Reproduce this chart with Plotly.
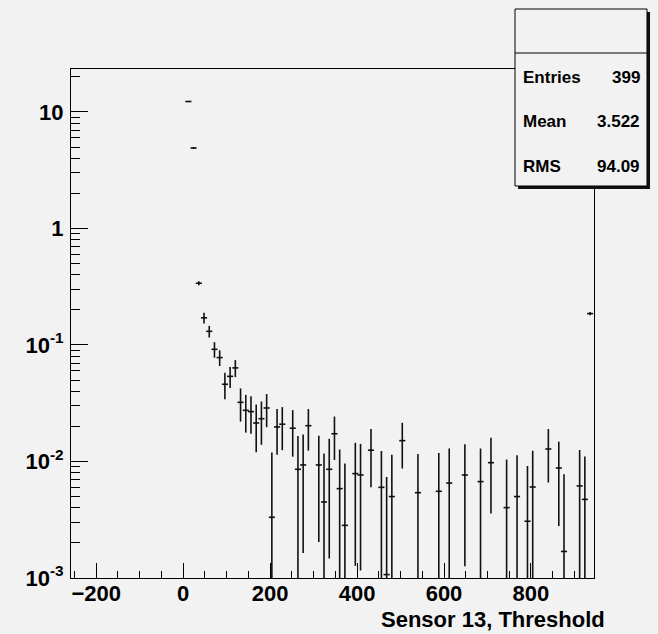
import plotly.graph_objects as go

# ---- data ----
bin_centers = [12, 24, 36, 48, 60, 72, 84, 96, 108, 120,
               132, 144, 156, 168, 180, 192, 204, 216, 228, 252,
               264, 276, 288, 312, 324, 336, 348, 360, 372, 396,
               408, 432, 456, 468, 480, 504, 540, 588, 612, 648,
               684, 708, 744, 768, 792, 804, 840, 864, 876, 912,
               924, 936]
counts = [12.3, 4.91, 0.339, 0.171, 0.131, 0.0918, 0.078, 0.046, 0.0538, 0.0636,
          0.0322, 0.0275, 0.0268, 0.0214, 0.0233, 0.0288, 0.00332, 0.0198, 0.0209, 0.0193,
          0.00857, 0.00934, 0.0203, 0.00934, 0.00449, 0.00857, 0.0173, 0.00585, 0.00283, 0.00787,
          0.00766, 0.0125, 0.006, 0.00107, 0.005, 0.0151, 0.0054, 0.00555, 0.00653, 0.00766,
          0.00672, 0.00977, 0.00402, 0.005, 0.00307, 0.00604, 0.0128, 0.00879, 0.00169, 0.00617,
          0.00473, 0.186]
errors = [0, 0.1, 0.013, 0.018, 0.015, 0.014, 0.012, 0.0117, 0.011, 0.0106,
          0.0102, 0.0098, 0.0095, 0.0094, 0.0094, 0.0091, 0.0086, 0.0084, 0.0084, 0.0083,
          0.008, 0.0077, 0.0079, 0.0073, 0.0072, 0.0071, 0.007, 0.0068, 0.0068, 0.0066,
          0.0065, 0.0065, 0.0063, 0.0063, 0.0064, 0.0064, 0.0062, 0.0063, 0.0064, 0.0064,
          0.0062, 0.0062, 0.0064, 0.0063, 0.0061, 0.0063, 0.0062, 0.006, 0.0061, 0.0064,
          0.0063, 0.006]
half_bin = 6

x_title = "Sensor 13, Threshold"
stat_names = ["Entries", "Mean", "RMS"]
stat_values = ["399", "3.522", "94.09"]

y_tick_vals = [1e-3, 1e-2, 1e-1, 1, 10]
y_tick_text = ["10<sup>-3</sup>", "10<sup>-2</sup>", "10<sup>-1</sup>", "1", "10"]

# ---- layout geometry (pixels) ----
W, H = 658, 634
L, R, T, B = 71, 594, 69, 578
BG = "#f2f2f2"
FONT = "Liberation Sans"


def px(x):
    return (x - L) / (R - L)


def py(y):
    return (B - y) / (B - T)


minor_y = [m * 10.0 ** e for e in range(-3, 2) for m in range(2, 10)]

fig = go.Figure()
fig.add_trace(go.Scatter(
    x=bin_centers, y=counts, mode="markers",
    marker=dict(size=1, color="black"),
    error_y=dict(type="data", array=errors, visible=True, width=0,
                 thickness=1.6, color="#111111"),
    error_x=dict(type="constant", value=half_bin + 1, visible=True, width=0,
                 thickness=1.6, color="#111111"),
    showlegend=False, hoverinfo="skip",
))

fig.update_layout(
    width=W, height=H,
    margin=dict(l=L, r=W - R, t=T, b=H - B, pad=0),
    paper_bgcolor=BG, plot_bgcolor=BG,
    font=dict(family=FONT, color="black", size=22, weight="bold"),
    xaxis=dict(
        range=[-258, 945], showgrid=False, zeroline=False,
        showline=True, linecolor="black", linewidth=1, mirror=True,
        ticks="inside", ticklen=15, tickwidth=1, tickcolor="black",
        tick0=0, dtick=200, ticklabelstandoff=-4,
        minor=dict(ticks="inside", ticklen=7, tickwidth=1, tickcolor="black",
                   dtick=50, tick0=0, showgrid=False),
        tickfont=dict(family=FONT, size=22, weight="bold"),
    ),
    yaxis=dict(
        type="log", range=[-3, 1.369], showgrid=False, zeroline=False,
        showline=True, linecolor="black", linewidth=1, mirror=True,
        ticks="inside", ticklen=17, tickwidth=1, tickcolor="black",
        tickmode="array", tickvals=y_tick_vals, ticktext=y_tick_text,
        ticklabelstandoff=2,
        minor=dict(ticks="inside", ticklen=9, tickwidth=1, tickcolor="black",
                   tickmode="array", tickvals=minor_y, showgrid=False),
        tickfont=dict(family=FONT, size=22, weight="bold"),
    ),
)

# stats box: shadow, box, divider
fig.add_shape(type="rect", xref="paper", yref="paper",
              x0=px(518), x1=px(650), y0=py(12), y1=py(189),
              fillcolor="#111111", line=dict(width=0), layer="above")
fig.add_shape(type="rect", xref="paper", yref="paper",
              x0=px(515), x1=px(647), y0=py(9), y1=py(186),
              fillcolor=BG, line=dict(color="black", width=1), layer="above")
fig.add_shape(type="line", xref="paper", yref="paper",
              x0=px(515), x1=px(647), y0=py(53), y1=py(53),
              line=dict(color="black", width=1), layer="above")

stat_y = [77, 122, 166]
for name, val, yy in zip(stat_names, stat_values, stat_y):
    fig.add_annotation(text=name, xref="paper", yref="paper",
                       x=px(521), y=py(yy), xanchor="left", yanchor="middle",
                       showarrow=False,
                       font=dict(family=FONT, size=17, weight="bold", color="black"))
    fig.add_annotation(text=val, xref="paper", yref="paper",
                       x=px(642), y=py(yy), xanchor="right", yanchor="middle",
                       showarrow=False,
                       font=dict(family=FONT, size=17, weight="bold", color="black"))

fig.add_annotation(text=x_title, xref="paper", yref="paper",
                   x=px(607), y=py(619), xanchor="right", yanchor="middle",
                   showarrow=False,
                   font=dict(family=FONT, size=22, weight="bold", color="black"))

fig.write_html(
    "out.html",
    config={"displayModeBar": False},
    post_script="document.body.style.margin='0';"
                "document.body.style.background='#f2f2f2';",
)
